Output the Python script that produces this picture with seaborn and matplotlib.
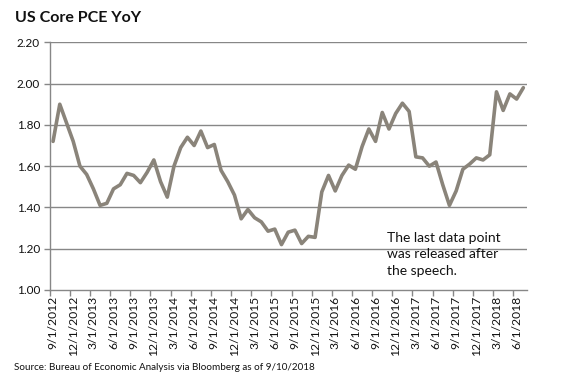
import matplotlib
matplotlib.use("Agg")
import matplotlib.pyplot as plt
import seaborn as sns
import pandas as pd
import numpy as np
from matplotlib.ticker import FixedLocator, NullFormatter, FixedFormatter

# ---- data ----
months = pd.date_range("2012-09-01", periods=71, freq="MS")
month_labels = [f"{d.month}/1/{d.year}" for d in months]
core_pce = [
    1.72, 1.90, 1.81, 1.72, 1.60, 1.56, 1.49, 1.41, 1.42, 1.49,
    1.51, 1.565, 1.555, 1.52, 1.57, 1.63, 1.525, 1.45, 1.60, 1.69,
    1.74, 1.70, 1.77, 1.69, 1.705, 1.58, 1.525, 1.46, 1.345, 1.39,
    1.35, 1.33, 1.285, 1.295, 1.22, 1.28, 1.29, 1.225, 1.26, 1.255,
    1.475, 1.555, 1.48, 1.555, 1.605, 1.585, 1.695, 1.78, 1.72, 1.86,
    1.78, 1.855, 1.905, 1.865, 1.645, 1.64, 1.60, 1.62, 1.51, 1.41,
    1.48, 1.585, 1.61, 1.64, 1.63, 1.655, 1.96, 1.87, 1.95, 1.925,
    1.98,
]
y_ticks = [1.00, 1.20, 1.40, 1.60, 1.80, 2.00, 2.20]
title = "US Core PCE YoY"
note = "The last data point\nwas released after\nthe speech."
source = "Source: Bureau of Economic Analysis via Bloomberg as of 9/10/2018"

df = pd.DataFrame({"idx": np.arange(len(core_pce)), "value": core_pce, "label": month_labels})

sns.set_style("white")
plt.rcParams["font.family"] = ["Lato", "DejaVu Sans"]

fig = plt.figure(figsize=(5.69, 3.78), dpi=100)
ax = fig.add_axes([49.7 / 569, 1 - 290 / 378, (526.7 - 49.7) / 569, (290 - 42.3) / 378])

grid_col = "#878787"
for yv in y_ticks[1:]:
    ax.axhline(yv, color=grid_col, lw=1.0, zorder=1)

sns.lineplot(data=df, x="idx", y="value", ax=ax, color="#8A847A", lw=2.6, zorder=3)

ax.set_xlim(-0.5, len(core_pce) - 0.5)
ax.set_ylim(1.0, 2.2)
ax.set_yticks(y_ticks)
ax.set_yticklabels([f"{v:.2f}" for v in y_ticks], fontsize=8.5, color="#111111")

# category boundaries ticks, labels at category centres
label_pos = list(range(0, len(core_pce), 3))
ax.xaxis.set_major_locator(FixedLocator([p - 0.5 for p in label_pos]))
ax.xaxis.set_major_formatter(NullFormatter())
ax.xaxis.set_minor_locator(FixedLocator(label_pos))
ax.xaxis.set_minor_formatter(FixedFormatter([month_labels[p] for p in label_pos]))
ax.tick_params(axis="x", which="major", direction="out", length=4, width=1, color=grid_col, bottom=True)
ax.tick_params(axis="x", which="minor", length=0, labelsize=8.7, labelrotation=90, pad=4, labelcolor="#111111")
ax.tick_params(axis="y", direction="out", length=4, width=1, color=grid_col, left=True, pad=3)

for s in ["top", "right"]:
    ax.spines[s].set_visible(False)
for s in ["left", "bottom"]:
    ax.spines[s].set_color(grid_col)
    ax.spines[s].set_linewidth(1.0)

ax.set_xlabel("")
ax.set_ylabel("")

fig.text(15 / 569, 1 - 18 / 378, title, fontsize=11.5, fontweight="bold", va="center", ha="left", color="#111111")
fig.text(387 / 569, 1 - 232 / 378, note, fontsize=10, va="top", ha="left", color="#111111", linespacing=1.45)
fig.text(14 / 569, 1 - 367 / 378, source, fontsize=7.1, va="center", ha="left", color="#111111")

fig.savefig("out.png", dpi=100)
